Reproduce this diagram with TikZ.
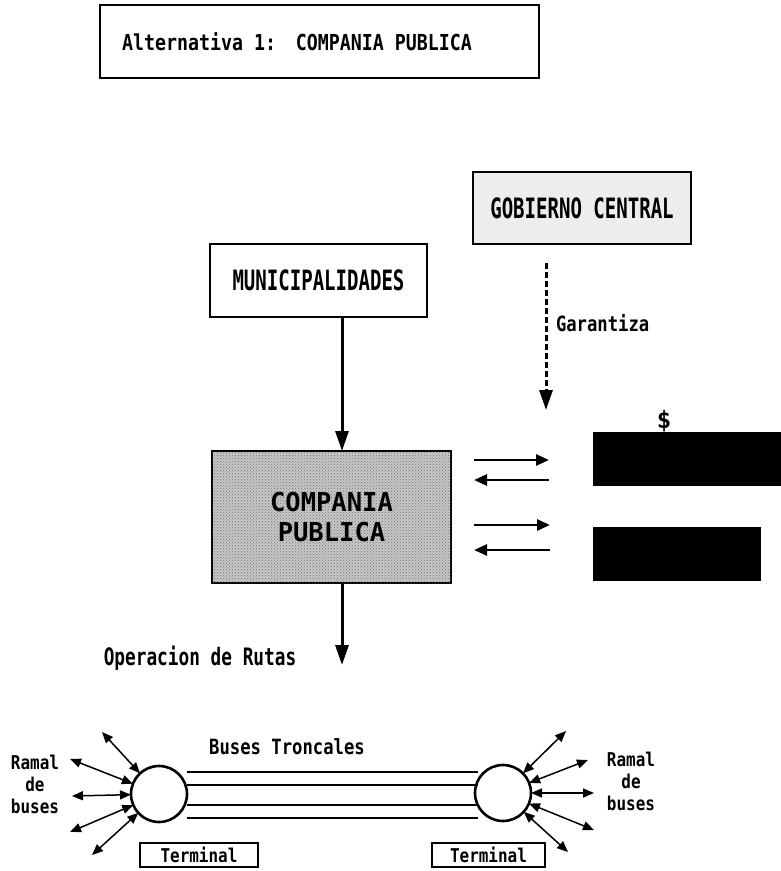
\documentclass[tikz,border=0pt]{standalone}
\usepackage{fontspec}
\setmainfont{DejaVu Sans Mono}
\newfontfamily\ftitle[FakeStretch=0.83]{DejaVu Sans Mono}
\newfontfamily\fmuni[FakeStretch=0.68]{DejaVu Sans Mono}
\newfontfamily\fgob[FakeStretch=0.68]{DejaVu Sans Mono}
\newfontfamily\fcomp[FakeStretch=0.98]{DejaVu Sans Mono}
\newfontfamily\foper[FakeStretch=0.74]{DejaVu Sans Mono}
\newfontfamily\flow[FakeStretch=0.82]{DejaVu Sans Mono}
\newfontfamily\fsmall[FakeStretch=0.84]{DejaVu Sans Mono}
\usetikzlibrary{arrows.meta,patterns}
\begin{document}
\begin{tikzpicture}[x=1pt,y=-1pt,
  box/.style={draw, line width=2.2pt, inner sep=0pt, outer sep=0pt},
  blackbox/.style={fill=black, draw=black, line width=1pt, inner sep=0pt, outer sep=0pt},
  txt/.style={inner sep=0pt, outer sep=0pt},
  bigarrow/.style={line width=3pt, -{Triangle[length=20pt,width=13pt]}},
  pairarrow/.style={line width=2.6pt, -{Triangle[length=13pt,width=11pt]}},
  garrow/.style={line width=3pt, dash pattern=on 6pt off 3pt, -{Triangle[length=20pt,width=13pt]}},
  ramal/.style={line width=1.5pt, {Triangle[length=11pt,width=9pt]}-{Triangle[length=11pt,width=9pt]}},
  trunk/.style={line width=2.4pt},
  term/.style={circle, draw, line width=2.6pt, minimum size=56pt, inner sep=0pt, outer sep=0pt}
]
\useasboundingbox (0,0) rectangle (781,871);

% title
\node[box, minimum width=439pt, minimum height=73pt] (title) at (319.5,41.5) {};
\node[txt, font=\ftitle\bfseries\fontsize{22}{24}\selectfont] (titletext) at (297,42) {Alternativa 1:\hspace{20pt}COMPANIA PUBLICA};

% upper boxes
\node[box, minimum width=217pt, minimum height=73pt, font=\fmuni\bfseries\fontsize{28}{30}\selectfont] (muni) at (318.5,280.5) {MUNICIPALIDADES};
\node[box, fill=black!7, minimum width=218pt, minimum height=72pt, font=\fgob\bfseries\fontsize{28}{30}\selectfont] (gob) at (582,208) {GOBIERNO CENTRAL};

% company
\node[box, fill=black!22, postaction={pattern=crosshatch dots, pattern color=black!55}, minimum width=239pt, minimum height=132pt, align=center, font=\fcomp\bfseries\fontsize{26}{30}\selectfont] (comp) at (331.5,517) {COMPANIA\\PUBLICA};

% black boxes
\node[blackbox, minimum width=188pt, minimum height=53pt] (b1) at (687,458.5) {};
\node[blackbox, minimum width=167pt, minimum height=53pt] (b2) at (676.5,553.5) {};
\node[txt, font=\bfseries\fontsize{24}{26}\selectfont, anchor=south] (dollar) at (664,432) {\$};

% arrows municipal / company
\coordinate (mx) at (342,0);
\draw[bigarrow] (muni.south -| mx) -- (comp.north -| mx);
\coordinate (opend) at (342,665);
\draw[bigarrow] (comp.south -| mx) -- (opend);
\node[txt, font=\foper\bfseries\fontsize{24}{26}\selectfont] (oper) at (200,658) {Operacion de Rutas};

% garantiza
\coordinate (gx) at (546,0);
\coordinate (gend) at (546,410);
\draw[garrow, shorten <=19pt] (gob.south -| gx) -- (gend);
\node[txt, anchor=west, font=\flow\bfseries\fontsize{21}{23}\selectfont] (gar) at (556,323) {Garantiza};

% pair arrows
\coordinate (p1a) at (474,460); \coordinate (p1b) at (549,460);
\coordinate (p1c) at (549,480); \coordinate (p1d) at (474,480);
\draw[pairarrow] (p1a) -- (p1b);
\draw[pairarrow] (p1c) -- (p1d);
\coordinate (p2a) at (474,525); \coordinate (p2b) at (550,525);
\coordinate (p2c) at (550,550); \coordinate (p2d) at (474,550);
\draw[pairarrow] (p2a) -- (p2b);
\draw[pairarrow] (p2c) -- (p2d);

% terminals
\node[term] (cL) at (159,794) {};
\node[term] (cR) at (503,793) {};
\foreach \y [count=\i] in {772,785,805,818}{
  \coordinate (tl\i) at (187,\y);
  \coordinate (tr\i) at (478,\y);
  \draw[trunk] (tl\i) -- (tr\i);
}
\node[txt, font=\flow\bfseries\fontsize{21}{23}\selectfont] (bt) at (287,747) {Buses Troncales};

\node[box, line width=1.6pt, minimum width=118pt, minimum height=24pt, font=\fsmall\bfseries\fontsize{19}{21}\selectfont] (termL) at (199,855) {Terminal};
\node[box, line width=1.6pt, minimum width=113pt, minimum height=24pt, font=\fsmall\bfseries\fontsize{19}{21}\selectfont] (termR) at (488.5,855) {Terminal};

% ramal arrows left
\coordinate (lA) at (102,732);
\coordinate (lB) at (70,759);
\coordinate (lC) at (72,796);
\coordinate (lD) at (70,832);
\coordinate (lE) at (92,855);
\foreach \p in {lA,lB,lC,lD,lE}{\draw[ramal] (cL) -- (\p);}
% ramal arrows right
\coordinate (rA) at (566,731);
\coordinate (rB) at (588,760);
\coordinate (rC) at (594,793);
\coordinate (rD) at (594,830);
\coordinate (rE) at (568,852);
\foreach \p in {rA,rB,rC,rD,rE}{\draw[ramal] (cR) -- (\p);}

\node[txt, align=center, font=\fsmall\bfseries\fontsize{19}{22}\selectfont] (ramL) at (35,784) {Ramal\\de\\buses};
\node[txt, align=center, font=\fsmall\bfseries\fontsize{19}{22}\selectfont] (ramR) at (631,781) {Ramal\\de\\buses};
\end{tikzpicture}
\end{document}
